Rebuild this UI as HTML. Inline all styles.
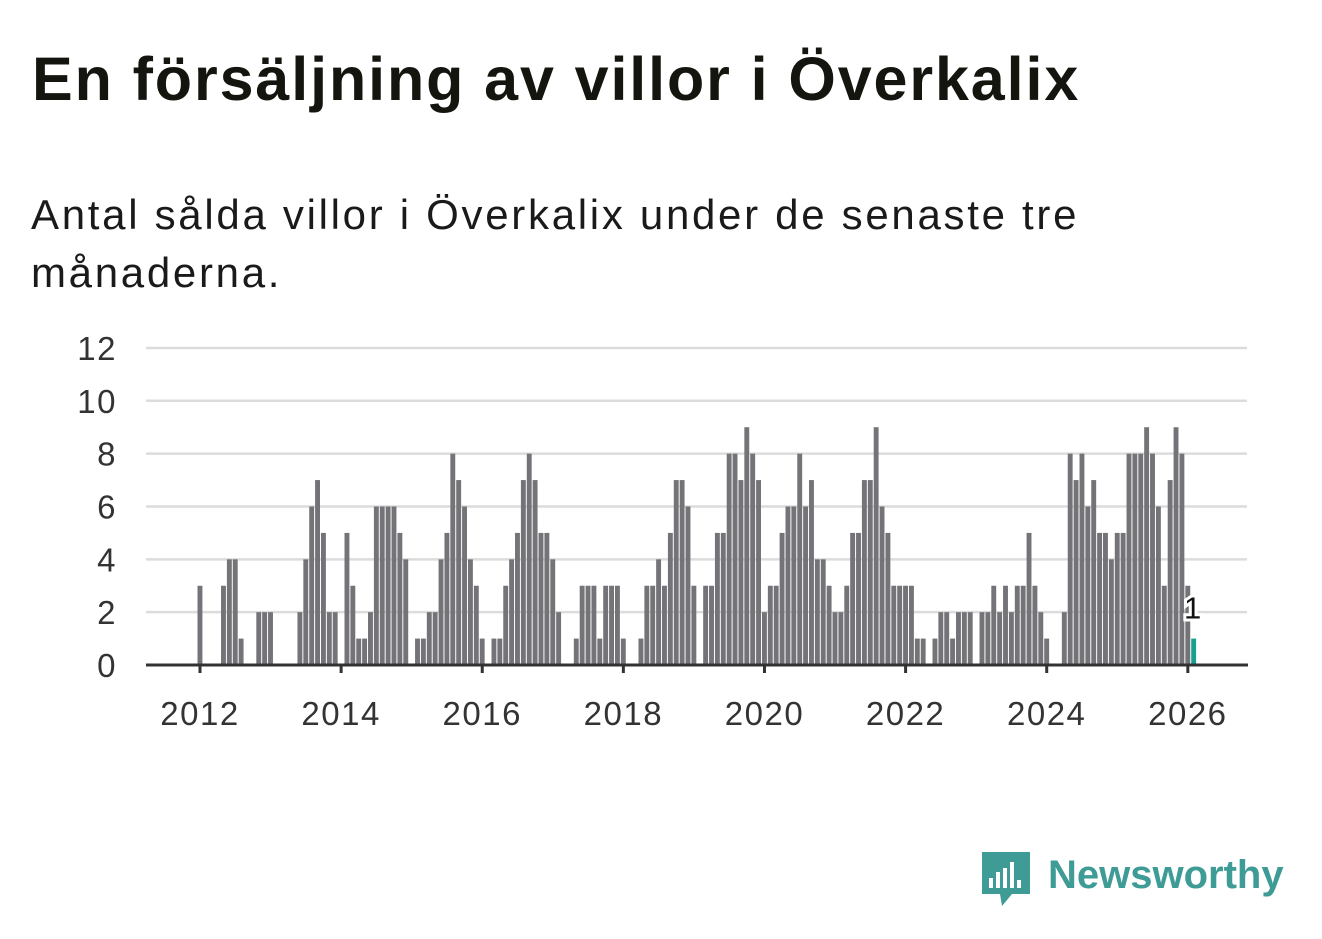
<!DOCTYPE html>
<html><head><meta charset="utf-8">
<style>
body{margin:0;background:#fff;width:1322px;height:939px;overflow:hidden;font-family:"Liberation Sans","DejaVu Sans",sans-serif;}
h1{position:absolute;left:32px;top:44px;margin:0;font-size:61px;font-weight:bold;color:#151510;letter-spacing:1.9px;line-height:71px;}
.sub{position:absolute;left:31px;top:186px;margin:0;font-size:42px;line-height:58px;color:#1a1a1a;width:1100px;letter-spacing:2.7px;}
svg{position:absolute;left:0;top:0;}
</style></head><body>
<h1>En försäljning av villor i Överkalix</h1>
<p class="sub">Antal sålda villor i Överkalix under de senaste tre månaderna.</p>
<svg id="chart" width="1322" height="939"></svg>
<script>
const startYear = 2012;
const values = [3,0,0,0,3,4,4,1,0,0,2,2,2,0,0,0,0,2,4,6,7,5,2,2,0,5,3,1,1,2,6,6,6,6,5,4,0,1,1,2,2,
4,5,8,7,6,4,3,1,0,1,1,3,4,5,7,8,7,5,5,4,2,0,0,1,3,3,3,1,3,3,3,1,0,0,1,3,3,4,3,5,7,7,6,3,
0,3,3,5,5,8,8,7,9,8,7,2,3,3,5,6,6,8,6,7,4,4,3,2,2,3,5,5,7,7,9,6,5,3,3,3,3,1,1,0,1,2,2,
1,2,2,2,0,2,2,3,2,3,2,3,3,5,3,2,1,0,0,2,8,7,8,6,7,5,5,4,5,5,8,8,8,9,8,6,3,7,9,8,3,1];
const yTicks = [0,2,4,6,8,10,12];
const xTicks = [2012,2014,2016,2018,2020,2022,2024,2026];
const NS='http://www.w3.org/2000/svg';
const svg=document.getElementById('chart');
const slot=5.88, x0=197.5, bw=4.9;
const xIdx=i=>x0+i*slot;
const y=v=>665-v*26.42;
function mk(t,a){const e=document.createElementNS(NS,t);for(const k in a)e.setAttribute(k,a[k]);svg.appendChild(e);return e;}
yTicks.forEach(v=>{
  if(v>0){const g=mk('line',{x1:146,x2:1247,y1:y(v),y2:y(v),stroke:'#dcdcdc','stroke-width':2.5});
  
  }
  const t=mk('text',{x:117,y:y(v)+12,'text-anchor':'end','font-size':33,'letter-spacing':1.5,fill:'#333','font-family':'Liberation Sans, sans-serif'});
  t.textContent=v;
  
  
});
const last=values.length-1;
values.forEach((v,i)=>{
  if(v<=0)return;
  const r=mk('rect',{x:xIdx(i),y:y(v),width:bw,height:665-y(v),fill:i===last?'#1a9e8f':'#747378'});
  
  
});
const ax=mk('line',{x1:146,x2:1248,y1:665,y2:665,stroke:'#333','stroke-width':3});


xTicks.forEach(yr=>{
  const cx=xIdx((yr-startYear)*12)+2.5;
  const tk=mk('line',{x1:cx,x2:cx,y1:665,y2:673,stroke:'#333','stroke-width':3});
  
  
  const t=mk('text',{x:cx,y:725,'text-anchor':'middle','font-size':33,'letter-spacing':1.5,fill:'#333','font-family':'Liberation Sans, sans-serif'});
  t.textContent=yr;
  
  
});
const lx=xIdx(last)+bw/2-1;
const lbl=mk('text',{x:lx,y:y(values[last])-20,'text-anchor':'middle','font-size':31,fill:'#111',stroke:'#fff','stroke-width':6,'paint-order':'stroke','font-family':'Liberation Sans, sans-serif'});
lbl.textContent=values[last];


</script>
<svg width="1322" height="939">
  <path d="M982 852 h48 v42 h-18 l-10 12 l-2 -12 h-18 z" fill="#3e9b95"/>
  <rect x="989" y="878" width="4" height="10" fill="#fff"/>
  <rect x="996" y="872" width="4" height="16" fill="#fff"/>
  <rect x="1003" y="868" width="4" height="20" fill="#fff"/>
  <rect x="1010" y="862" width="4" height="26" fill="#fff"/>
  <rect x="1017" y="880" width="4" height="8" fill="#fff"/>
  <text x="1048" y="888" font-size="40" font-weight="bold" fill="#3e9b95" font-family="Liberation Sans, sans-serif">Newsworthy</text>
</svg>
</body></html>
